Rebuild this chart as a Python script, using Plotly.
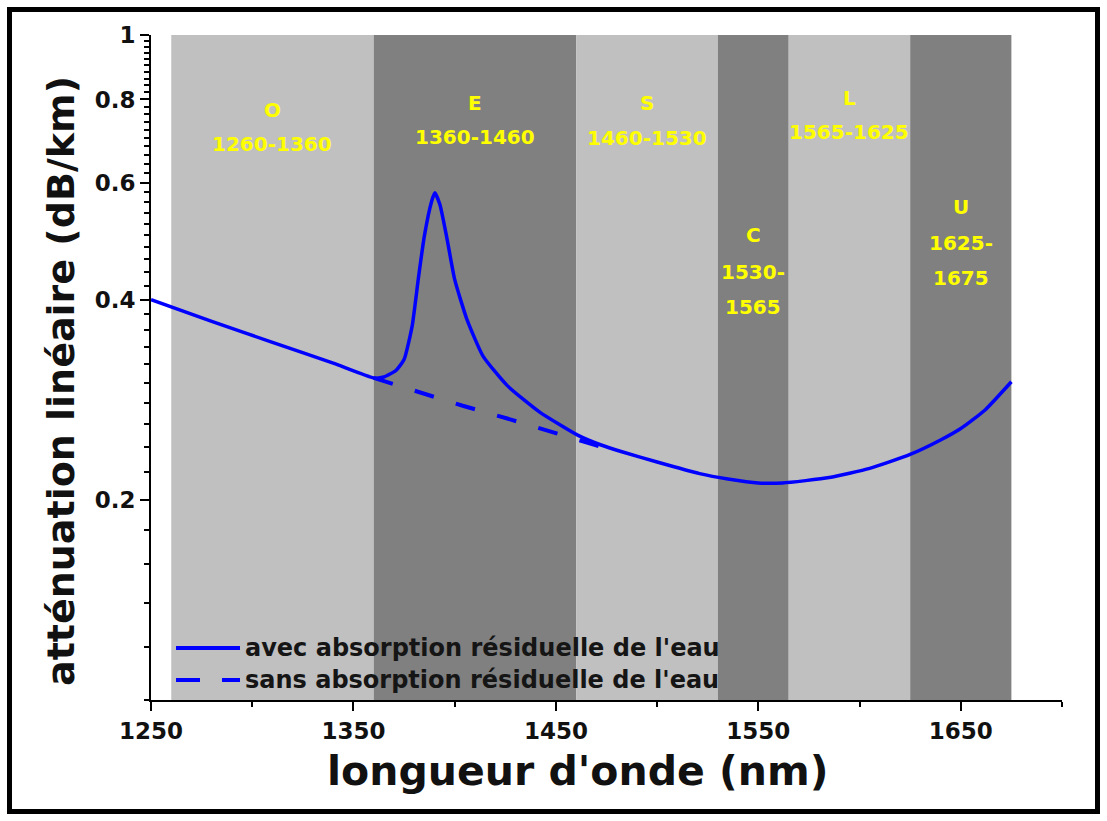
import plotly.graph_objects as go

# ---------------- data ----------------
band_names = ["O", "E", "S", "C", "L", "U"]
band_start = [1260, 1360, 1460, 1530, 1565, 1625]
band_end = [1360, 1460, 1530, 1565, 1625, 1675]
band_split = [False, False, False, True, False, True]   # range written on two lines

wl_avec = [1250, 1280, 1310, 1340, 1360, 1365, 1371, 1375, 1379, 1382, 1385, 1388.6,
           1390.2, 1392.7, 1396, 1400, 1406, 1414, 1426, 1442, 1461, 1472, 1483,
           1500, 1521, 1535, 1550, 1562, 1585, 1605, 1625, 1640, 1650, 1662, 1675]
att_avec = [0.400, 0.371, 0.345, 0.321, 0.305, 0.306, 0.313, 0.325, 0.365, 0.429, 0.498, 0.562,
            0.579, 0.556, 0.498, 0.429, 0.374, 0.329, 0.297, 0.271, 0.250, 0.242, 0.236,
            0.228, 0.219, 0.215, 0.212, 0.212, 0.216, 0.223, 0.234, 0.246, 0.256, 0.273, 0.301]

wl_sans = [1360, 1383, 1404, 1426, 1448, 1475]
att_sans = [0.305, 0.290, 0.277, 0.265, 0.253, 0.239]

legend_labels = ["avec absorption résiduelle de l'eau", "sans absorption résiduelle de l'eau"]
x_title = "longueur d'onde (nm)"
y_title = "atténuation linéaire (dB/km)"

x_ticks = [1250, 1350, 1450, 1550, 1650]
x_minor = [1300, 1400, 1500, 1600, 1700]
y_ticks = [0.2, 0.4, 0.6, 0.8, 1.0]
y_ticktext = ["0.2", "0.4", "0.6", "0.8", "1"]
y_minor = [round(0.10 + 0.02 * i, 2) for i in range(46)]

# ---------------- style ----------------
FONT = "DejaVu Sans"
TXT = "#111111"
band_colors = ["#c0c0c0", "#808080", "#c0c0c0", "#808080", "#c0c0c0", "#808080"]
# paper y of each line of band labels
label_y = {
    "O": [0.887, 0.836],
    "E": [0.898, 0.847],
    "S": [0.898, 0.845],
    "C": [0.699, 0.644, 0.591],
    "L": [0.905, 0.854],
    "U": [0.741, 0.687, 0.635],
}
BLUE = "#0000ff"

def bold(size, color=TXT):
    return dict(family=FONT, size=size, color=color, weight="bold")

fig = go.Figure()

fig.add_trace(go.Scatter(x=wl_avec, y=att_avec, mode="lines", name=legend_labels[0],
                         line=dict(color=BLUE, width=3.5, shape="spline", smoothing=0.5),
                         showlegend=False))
fig.add_trace(go.Scatter(x=wl_sans, y=att_sans, mode="lines", name=legend_labels[1],
                         line=dict(color=BLUE, width=4, dash="20px,23px"),
                         showlegend=False))

shapes = []
annotations = []
for name, s, e, col, split in zip(band_names, band_start, band_end, band_colors, band_split):
    shapes.append(dict(type="rect", xref="x", yref="paper", x0=s, x1=e, y0=0, y1=1,
                       fillcolor=col, line=dict(width=0), layer="below"))
    lines = [name, f"{s}-", f"{e}"] if split else [name, f"{s}-{e}"]
    for txt, yy in zip(lines, label_y[name]):
        annotations.append(dict(x=(s + e) / 2, y=yy, xref="x", yref="paper", text=txt,
                                showarrow=False, xanchor="center", yanchor="middle",
                                font=bold(20, "#ffff00")))

# pixel -> paper helpers (plot area 151..1062 x 35..700)
W, H = 911.0, 665.0
def px(xp):
    return (xp - 151) / W
def py(yp):
    return (700 - yp) / H

# manual legend (long line samples as in the original)
shapes.append(dict(type="line", xref="paper", yref="paper", x0=px(176), x1=px(240),
                   y0=py(648), y1=py(648), line=dict(color=BLUE, width=4)))
shapes.append(dict(type="line", xref="paper", yref="paper", x0=px(176), x1=px(240),
                   y0=py(680), y1=py(680), line=dict(color=BLUE, width=4, dash="24px,22px")))
for txt, yy in zip(legend_labels, [648, 680]):
    annotations.append(dict(x=px(243), y=py(yy), xref="paper", yref="paper", text=txt,
                            showarrow=False, xanchor="left", yanchor="middle",
                            font=bold(24, "#151515")))

# axis titles
annotations.append(dict(x=px(578), y=py(771), xref="paper", yref="paper", text=x_title,
                        showarrow=False, xanchor="center", yanchor="middle", font=bold(41)))
annotations.append(dict(x=px(61), y=py(381), xref="paper", yref="paper", text=y_title,
                        showarrow=False, xanchor="center", yanchor="middle", textangle=-90,
                        font=bold(38)))

# outer black frame
shapes.append(dict(type="rect", xref="paper", yref="paper", x0=px(9.5), x1=px(1097.5),
                   y0=py(811.5), y1=py(9.5), line=dict(color="black", width=5), layer="above"))

fig.update_layout(
    width=1107, height=821,
    margin=dict(l=151, r=45, t=35, b=121),
    paper_bgcolor="white", plot_bgcolor="white",
    shapes=shapes, annotations=annotations,
    showlegend=False,
    font=dict(family=FONT, color=TXT),
)

fig.update_xaxes(
    range=[1250, 1700], showgrid=False, zeroline=False,
    showline=True, linecolor="black", linewidth=2,
    ticks="outside", ticklen=9, tickwidth=2, tickcolor="black",
    tickvals=x_ticks, ticktext=[str(v) for v in x_ticks],
    tickfont=bold(23),
    minor=dict(tickvals=x_minor, ticks="outside", ticklen=5, tickwidth=2, tickcolor="black"),
)
fig.update_yaxes(
    type="log", range=[-1, 0], showgrid=False, zeroline=False,
    showline=True, linecolor="black", linewidth=2,
    ticks="outside", ticklen=9, tickwidth=2, tickcolor="black",
    tickvals=y_ticks, ticktext=y_ticktext,
    tickfont=bold(23),
    minor=dict(tickvals=y_minor, ticks="outside", ticklen=5, tickwidth=1.5, tickcolor="black"),
)

fig.write_html("out.html")
